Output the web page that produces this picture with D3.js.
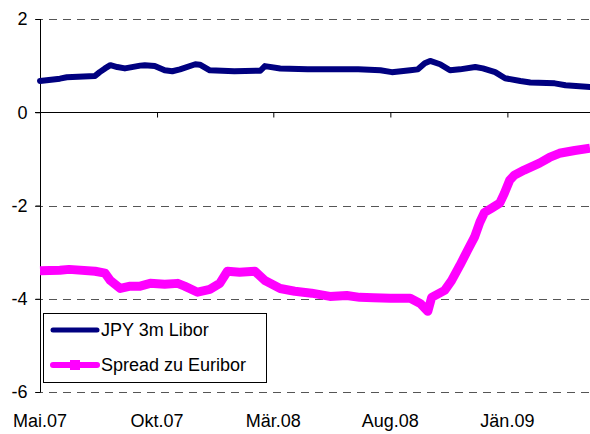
<!DOCTYPE html>
<html>
<head>
<meta charset="utf-8">
<script src="https://cdn.jsdelivr.net/npm/d3@7"></script>
<style>
  body { margin: 0; background: #fff; }
  svg { display: block; font-family: Arial, "Liberation Sans", sans-serif; }
</style>
</head>
<body>
<div id="chart"></div>
<script>
// Chart data
let seriesNames = ["JPY 3m Libor", "Spread zu Euribor"];
let tickLabels = ["Mai.07", "Okt.07", "Mär.08", "Aug.08", "Jän.09"];
let tickDates = ["2007-05-01", "2007-10-01", "2008-03-01", "2008-08-01", "2009-01-01"];
let yTicks = [2, 0, -2, -4, -6];

let jpyDates = ["2007-05-01", "2007-05-27", "2007-06-05", "2007-07-12", "2007-07-18", "2007-07-25",
    "2007-08-01", "2007-08-10", "2007-08-20", "2007-09-09", "2007-09-15", "2007-09-28", "2007-10-11",
    "2007-10-21", "2007-10-31", "2007-11-20", "2007-11-26", "2007-12-09", "2008-01-10", "2008-02-13",
    "2008-02-19", "2008-03-10", "2008-04-15", "2008-05-20", "2008-06-20", "2008-07-19", "2008-08-03",
    "2008-08-27", "2008-09-06", "2008-09-15", "2008-09-22", "2008-10-05", "2008-10-18", "2008-10-31",
    "2008-11-20", "2008-11-30", "2008-12-16", "2008-12-29", "2009-01-18", "2009-01-31", "2009-03-04",
    "2009-03-18", "2009-04-19"];
let jpyValues = [0.67, 0.72, 0.75, 0.78, 0.86, 0.94,
    1.01, 0.97, 0.94, 1.00, 1.01, 0.99, 0.90,
    0.88, 0.92, 1.03, 1.02, 0.90, 0.88, 0.89,
    0.99, 0.94, 0.92, 0.92, 0.92, 0.90, 0.86,
    0.90, 0.92, 1.05, 1.10, 1.03, 0.90, 0.92,
    0.97, 0.94, 0.86, 0.73, 0.67, 0.64, 0.62,
    0.58, 0.54];

let spreadDates = ["2007-05-01", "2007-05-27", "2007-06-08", "2007-07-12", "2007-07-25", "2007-08-01",
    "2007-08-14", "2007-08-27", "2007-09-09", "2007-09-22", "2007-10-11", "2007-10-28", "2007-11-06",
    "2007-11-23", "2007-12-09", "2007-12-22", "2008-01-01", "2008-01-17", "2008-02-06", "2008-02-19",
    "2008-03-10", "2008-03-29", "2008-04-20", "2008-05-14", "2008-06-05", "2008-06-22", "2008-07-10",
    "2008-08-01", "2008-08-27", "2008-09-09",
    "2008-09-19", "2008-09-24", "2008-10-11", "2008-10-20", "2008-10-31", "2008-11-10", "2008-11-19",
    "2008-11-26", "2008-12-02", "2008-12-11", "2008-12-22", "2008-12-28", "2009-01-04", "2009-01-10",
    "2009-01-23", "2009-02-12", "2009-02-25", "2009-03-10", "2009-03-30", "2009-04-19"];
let spreadValues = [-3.40, -3.39, -3.37, -3.41, -3.45, -3.61,
    -3.78, -3.73, -3.73, -3.67, -3.69, -3.67, -3.73,
    -3.86, -3.80, -3.67, -3.41, -3.43, -3.41, -3.61,
    -3.78, -3.84, -3.88, -3.95, -3.93, -3.97, -3.98,
    -3.99, -3.99, -4.10,
    -4.27, -3.97, -3.82, -3.61, -3.28, -2.96, -2.68,
    -2.36, -2.15, -2.06, -1.95, -1.74, -1.46, -1.35,
    -1.24, -1.09, -0.97, -0.88, -0.82, -0.77];

let colors = ["#000080", "#ff00ff"];

// Dimensions
let width = 590, height = 434;
let margin = {top: 19, right: 0, bottom: 42, left: 40};

let parse = d3.timeParse("%Y-%m-%d");

let svg = d3.select("#chart").append("svg")
    .attr("width", width)
    .attr("height", height);

let x = d3.scaleTime()
    .domain([parse("2007-05-01"), parse("2009-04-19")])
    .range([margin.left, width - margin.right]);

let y = d3.scaleLinear()
    .domain([-6, 2])
    .range([height - margin.bottom, margin.top]);

// Dashed gridlines
svg.append("g").selectAll("line")
    .data(yTicks.filter(d => d !== 0))
    .enter().append("line")
    .attr("x1", margin.left - 5)
    .attr("x2", width - margin.right)
    .attr("y1", d => Math.round(y(d)) + 0.5)
    .attr("y2", d => Math.round(y(d)) + 0.5)
    .attr("stroke", "#555")
    .attr("stroke-dasharray", "8,6");

// Y axis
let yAxis = svg.append("g")
    .attr("transform", "translate(" + (margin.left + 0.5) + ",0)")
    .call(d3.axisLeft(y).tickValues(yTicks).tickSize(5).tickFormat(d3.format("d")));
yAxis.select(".domain").attr("stroke", "#000").attr("d", "M0," + y(2) + "V" + y(-6));
yAxis.selectAll("text")
    .attr("x", -13)
    .attr("font-size", 18)
    .attr("font-family", "Arial, 'Liberation Sans', sans-serif")
    .attr("fill", "#000")
    .text(d => d < 0 ? "-" + Math.abs(d) : d);

// X axis on the zero line
let xAxis = svg.append("g")
    .attr("transform", "translate(0," + (Math.round(y(0)) + 0.5) + ")")
    .call(d3.axisBottom(x).tickValues(tickDates.map(parse)).tickSize(5).tickFormat(""));
xAxis.select(".domain").attr("stroke", "#000").attr("d", "M" + (margin.left - 5) + ",0H" + width);

// X tick labels at the bottom
svg.append("g").selectAll("text")
    .data(tickDates)
    .enter().append("text")
    .attr("x", d => x(parse(d)))
    .attr("y", 427)
    .attr("text-anchor", "middle")
    .attr("font-size", 18)
    .text((d, i) => tickLabels[i]);

// Lines
let line = d3.line()
    .x(d => x(d.date))
    .y(d => y(d.value));

let jpyData = jpyDates.map((d, i) => ({date: parse(d), value: jpyValues[i]}));
let spreadData = spreadDates.map((d, i) => ({date: parse(d), value: spreadValues[i]}));

svg.append("path")
    .datum(spreadData)
    .attr("d", line)
    .attr("fill", "none")
    .attr("stroke", colors[1])
    .attr("stroke-width", 9)
    .attr("stroke-linejoin", "round");

svg.append("path")
    .datum(jpyData)
    .attr("d", line)
    .attr("fill", "none")
    .attr("stroke", colors[0])
    .attr("stroke-width", 6)
    .attr("stroke-linejoin", "round")
    .attr("stroke-linecap", "round");

// Legend
let legend = svg.append("g");
legend.append("rect")
    .attr("x", 43.5)
    .attr("y", 313.5)
    .attr("width", 223)
    .attr("height", 69)
    .attr("fill", "#fff")
    .attr("stroke", "#000");

let items = legend.selectAll(".item")
    .data(seriesNames)
    .enter().append("g")
    .attr("class", "item")
    .attr("transform", (d, i) => "translate(0," + (330 + i * 35) + ")");

items.append("line")
    .attr("x1", 53)
    .attr("x2", 97)
    .attr("stroke", (d, i) => colors[i])
    .attr("stroke-width", (d, i) => i === 0 ? 5 : 6)
    .attr("stroke-linecap", "round");

items.filter((d, i) => i === 1).append("rect")
    .attr("x", 70)
    .attr("y", -5)
    .attr("width", 10)
    .attr("height", 10)
    .attr("fill", colors[1]);

items.append("text")
    .attr("x", 101)
    .attr("dy", "0.35em")
    .attr("font-size", 18)
    .text(d => d);
</script>
</body>
</html>
